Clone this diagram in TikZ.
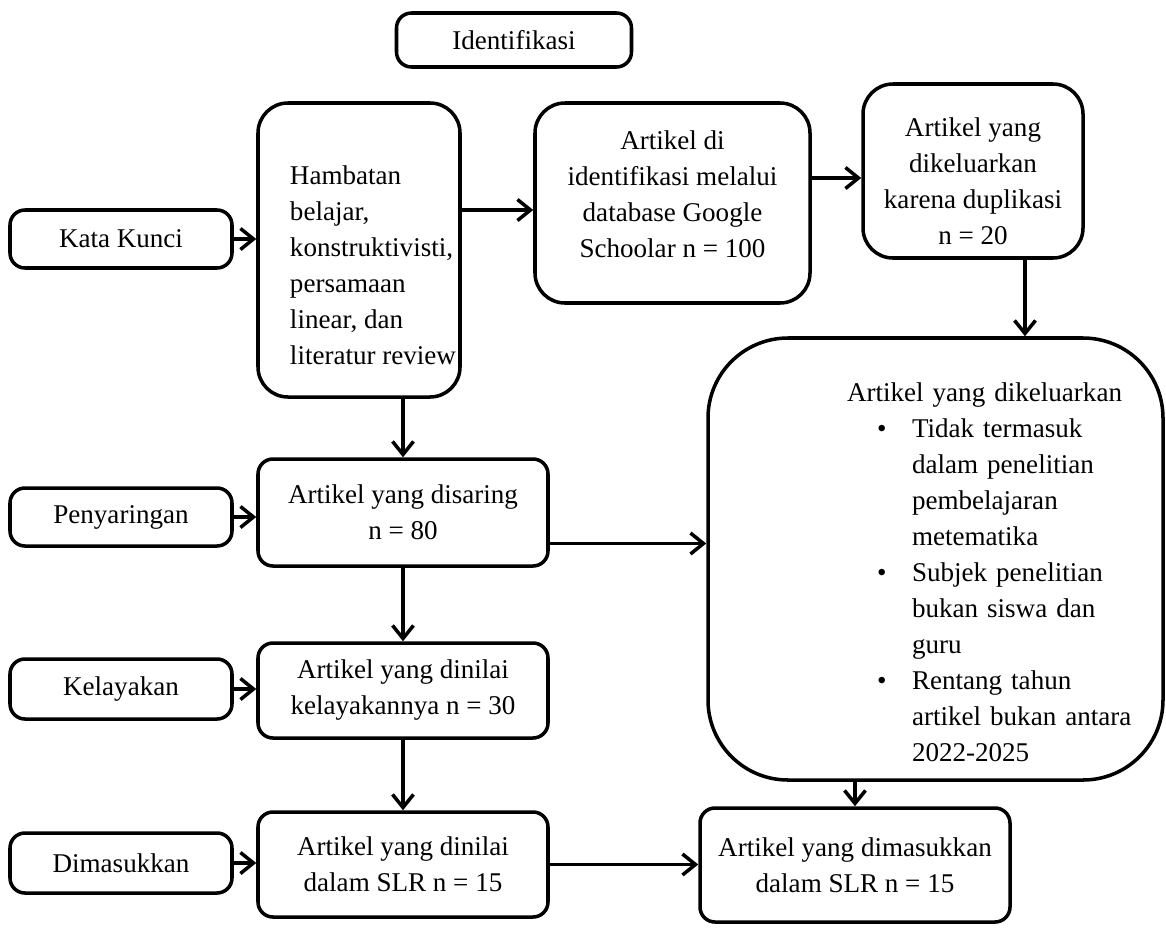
\documentclass[tikz,border=0pt]{standalone}
\usepackage{fontspec}
\setmainfont{Liberation Serif}
\usetikzlibrary{arrows.meta}
\newcommand\labelkiri[1]{#1\hfil}
\newenvironment{daftarkeluar}{\begin{list}{\textbullet}{\leftmargin=4.08cm \labelwidth=0.7cm \labelsep=0pt \rightmargin=0pt
    \itemsep=0pt \topsep=0pt \parsep=0pt \partopsep=0pt \raggedright \let\makelabel\labelkiri}}{\end{list}}
\tikzset{
    box/.style={draw=black, line width=2pt, rounded corners=0.3cm, align=center, inner sep=2pt},
    panah/.style={line width=2pt, -{Straight Barb[length=2.6mm,width=4.2mm,line width=2pt]}}
}
\begin{document}
\begin{tikzpicture}[font=\fontsize{15.4}{20.5}\selectfont]
                \useasboundingbox (0,0) rectangle (23.32,-18.7);

                \node[box, minimum width=4.7cm, minimum height=1.08cm] (ident) at (10.28,-0.80) {Identifikasi};

                \node[box, minimum width=4.44cm, minimum height=1.16cm] (kunci) at (2.42,-4.78) {Kata Kunci};
                \node[box, rounded corners=0.6cm, minimum width=4.04cm, minimum height=5.88cm] (hambatan) at (7.18,-5.0)
                    {\begin{tabular}{@{\hspace{0.56cm}}l@{}}\rule{0pt}{1.18cm}Hambatan\\ belajar,\\ konstruktivisti,\\ persamaan\\ linear, dan\\ literatur review\end{tabular}};
                \node[box, rounded corners=0.6cm, minimum width=5.5cm, minimum height=4.0cm] (artikeldi) at (13.45,-4.06)
                    {Artikel di\\ identifikasi melalui\\ database Google\\ Schoolar n = 100\rule[-0.34cm]{0pt}{0pt}};
                \node[box, rounded corners=0.6cm, minimum width=4.4cm, minimum height=3.48cm] (duplikasi) at (19.46,-3.42)
                    {\rule{0pt}{0.77cm}Artikel yang\\ dikeluarkan\\ karena duplikasi\\ n = 20};

                \node[box, rounded corners=1.6cm, text width=9.1cm, inner xsep=0pt, align=left, minimum height=8.84cm] (keluar) at (18.71,-11.18)
                    {\hspace*{2.78cm}\rule{0pt}{0.89cm}Artikel yang dikeluarkan\par
                    \begin{daftarkeluar}
                    \item Tidak termasuk\\ dalam penelitian\\ pembelajaran\\ metematika
                    \item Subjek penelitian\\ bukan siswa dan\\ guru
                    \item Rentang tahun\\ artikel bukan antara\\ 2022-2025
                    \end{daftarkeluar}};

                \node[box, minimum width=4.44cm, minimum height=1.16cm] (penyaringan) at (2.42,-10.34) {Penyaringan};
                \node[box, minimum width=5.8cm, minimum height=2.14cm] (disaring) at (8.06,-10.25) {Artikel yang disaring\\ n = 80};

                \node[box, minimum width=4.44cm, minimum height=1.2cm] (kelayakan) at (2.42,-13.78) {Kelayakan};
                \node[box, minimum width=5.8cm, minimum height=1.9cm] (dinilai) at (8.06,-13.81) {Artikel yang dinilai\\ kelayakannya n = 30};

                \node[box, minimum width=4.44cm, minimum height=1.2cm] (dimasukkan) at (2.42,-17.26) {Dimasukkan};
                \node[box, minimum width=5.8cm, minimum height=2.1cm] (slr) at (8.06,-17.29) {Artikel yang dinilai\\ dalam SLR n = 15};
                \node[box, minimum width=6.2cm, minimum height=2.28cm] (akhir) at (17.1,-17.3) {Artikel yang dimasukkan\\ dalam SLR n = 15};

                \draw[panah] (kunci.east) -- (kunci.east -| hambatan.west);
                \draw[panah] ([yshift=0.8cm]hambatan.east) -- ([yshift=0.8cm]hambatan.east -| artikeldi.west);
                \draw[panah] ([yshift=-0.14cm]duplikasi.west -| artikeldi.east) -- ([yshift=-0.14cm]duplikasi.west);
                \draw[panah] ([xshift=1.04cm]duplikasi.south) -- ([xshift=1.04cm]duplikasi.south |- keluar.north);

                \draw[panah] (hambatan.south -| disaring.north) -- (disaring.north);
                \draw[panah] (penyaringan.east) -- (penyaringan.east -| disaring.west);
                \draw[panah] ([yshift=-0.62cm]disaring.east) -- ([yshift=-0.62cm]disaring.east -| keluar.west);

                \draw[panah] (disaring.south) -- (dinilai.north);
                \draw[panah] (kelayakan.east) -- (kelayakan.east -| dinilai.west);

                \draw[panah] (dinilai.south) -- (slr.north);
                \draw[panah] (dimasukkan.east) -- (dimasukkan.east -| slr.west);
                \draw[panah] (slr.east) -- (slr.east -| akhir.west);
                \draw[panah] (akhir.north |- keluar.south) -- (akhir.north);
            \end{tikzpicture}
\end{document}
